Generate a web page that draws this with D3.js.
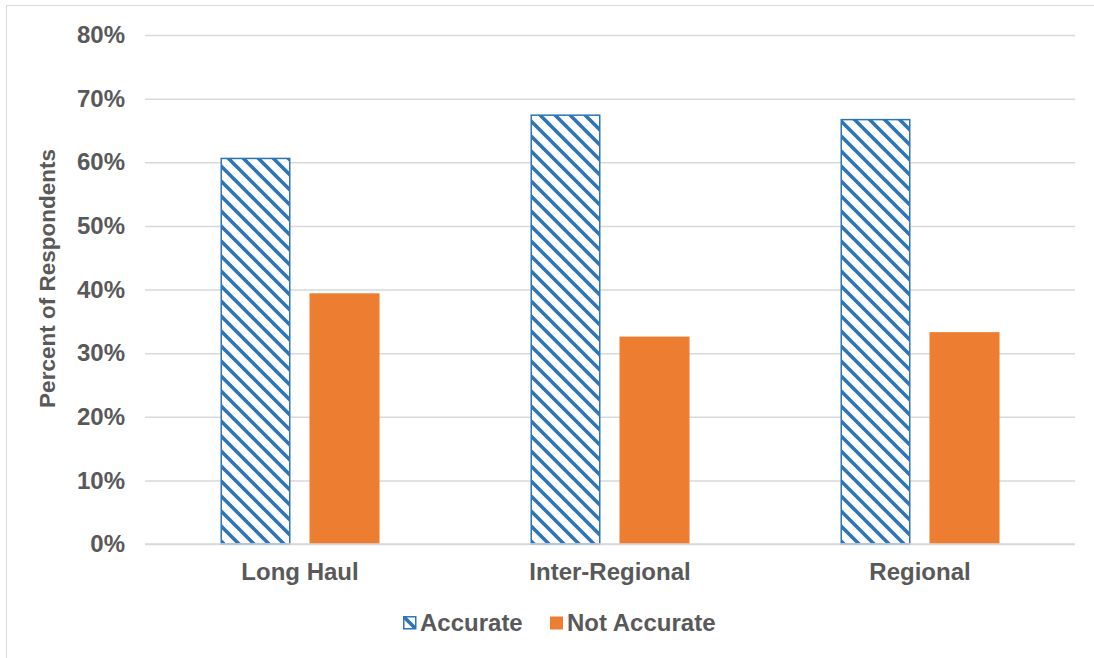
<!DOCTYPE html>
<html>
<head>
<meta charset="utf-8">
<script src="https://cdn.jsdelivr.net/npm/d3@7"></script>
<style>
  html, body { margin: 0; padding: 0; background: #ffffff; }
  svg { display: block; font-family: "Liberation Sans", Arial, sans-serif; }
</style>
</head>
<body>
<svg id="chart" width="1094" height="658"></svg>
<script>
// Survey results: share of respondents by route type
const categories = ["Long Haul", "Inter-Regional", "Regional"];
const seriesNames = ["Accurate", "Not Accurate"];
const accurate = [0.606, 0.674, 0.667];
const notAccurate = [0.394, 0.326, 0.333];
const yTicks = [0, 0.1, 0.2, 0.3, 0.4, 0.5, 0.6, 0.7, 0.8];

const svg = d3.select("#chart");
const textColor = "#595959";
const gridColor = "#d9d9d9";
const blue = "#2E75B6";
const orange = "#ED7D31";
const fontFamily = "Liberation Sans, Arial, sans-serif";

// outer frame
svg.append("rect")
  .attr("x", 6.5).attr("y", 5.5)
  .attr("width", 1100).attr("height", 700)
  .attr("fill", "#fff").attr("stroke", "#d9d9d9").attr("stroke-width", 1);

// diagonal hatch for the "Accurate" series
const defs = svg.append("defs");
const pat = defs.append("pattern")
  .attr("id", "hatch")
  .attr("patternUnits", "userSpaceOnUse")
  .attr("width", 15).attr("height", 15);
pat.append("rect").attr("width", 15).attr("height", 15).attr("fill", "#fff");
pat.append("path")
  .attr("d", "M-4,-4 L19,19 M-4,11 L4,19 M11,-4 L19,4")
  .attr("stroke", blue).attr("stroke-width", 3.6);

const plot = { left: 145, right: 1075, top: 35, bottom: 544 };

const x = d3.scaleBand().domain(categories).range([plot.left, plot.right]);
const xs = d3.scaleBand().domain(seriesNames).range([0, x.bandwidth()])
  .paddingInner(0.2135).paddingOuter(0.848);
const y = d3.scaleLinear().domain([0, 0.8]).range([plot.bottom, plot.top]);

// gridlines + y tick labels
const yAxis = d3.axisLeft(y).tickValues(yTicks).tickFormat(d3.format(".0%"))
  .tickSize(-(plot.right - plot.left)).tickPadding(20);
const gy = svg.append("g").attr("transform", `translate(${plot.left},0)`).call(yAxis);
gy.select(".domain").remove();
gy.selectAll(".tick line").attr("stroke", gridColor).attr("stroke-width", 1.5);
gy.selectAll(".tick text")
  .attr("fill", textColor).attr("font-size", 24).attr("font-weight", "bold")
  .attr("font-family", fontFamily);

// bars
const rows = categories.map((c, i) => ({ cat: c, values: [accurate[i], notAccurate[i]] }));
const groups = svg.append("g").selectAll("g").data(rows).join("g")
  .attr("transform", d => `translate(${x(d.cat)},0)`);

groups.append("rect")
  .attr("x", xs("Accurate") + 0.75)
  .attr("y", d => y(d.values[0]))
  .attr("width", xs.bandwidth() - 1.5)
  .attr("height", d => y(0) - y(d.values[0]))
  .attr("fill", "url(#hatch)")
  .attr("stroke", blue).attr("stroke-width", 1.5);

groups.append("rect")
  .attr("x", xs("Not Accurate"))
  .attr("y", d => y(d.values[1]))
  .attr("width", xs.bandwidth())
  .attr("height", d => y(0) - y(d.values[1]))
  .attr("fill", orange);

// baseline
svg.append("line")
  .attr("x1", plot.left).attr("x2", plot.right)
  .attr("y1", y(0)).attr("y2", y(0))
  .attr("stroke", gridColor).attr("stroke-width", 1.5);

// category labels
const xAxis = d3.axisBottom(x).tickSize(0).tickPadding(19);
const gx = svg.append("g").attr("transform", `translate(0,${plot.bottom})`).call(xAxis);
gx.select(".domain").remove();
gx.selectAll(".tick text")
  .attr("fill", textColor).attr("font-size", 24).attr("font-weight", "bold")
  .attr("font-family", fontFamily);

// y-axis title
svg.append("text")
  .attr("transform", `translate(55,${(plot.top + plot.bottom) / 2 - 11}) rotate(-90)`)
  .attr("text-anchor", "middle")
  .attr("fill", textColor).attr("font-size", 22.5).attr("font-weight", "bold")
  .text("Percent of Respondents");

// legend
const legend = svg.append("g").attr("transform", "translate(403,616)");
const legendItems = [
  { name: seriesNames[0], x: 0 },
  { name: seriesNames[1], x: 147 }
];
legendItems.forEach((it, i) => {
  const g = legend.append("g").attr("transform", `translate(${it.x},0)`);
  if (i === 0) {
    g.append("rect").attr("x", 0.75).attr("y", 0.75).attr("width", 12).attr("height", 12)
      .attr("fill", "url(#hatch)").attr("stroke", blue).attr("stroke-width", 1.5);
  } else {
    g.append("rect").attr("x", 0).attr("y", 0.5).attr("width", 13).attr("height", 13)
      .attr("fill", orange);
  }
  g.append("text").attr("x", 17).attr("y", 15)
    .attr("fill", textColor).attr("font-size", 24).attr("font-weight", "bold")
    .text(it.name);
});
</script>
</body>
</html>
